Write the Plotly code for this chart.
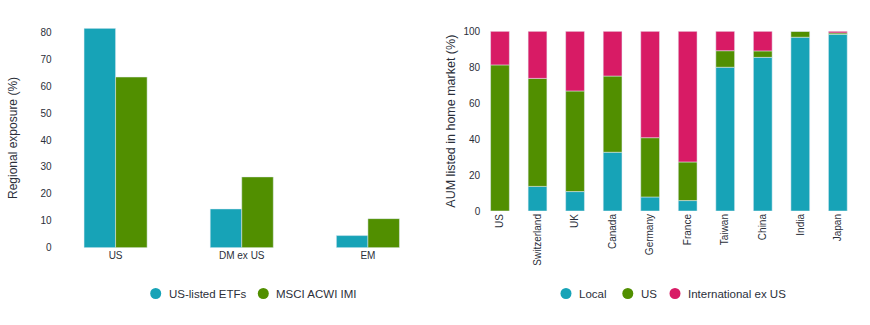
import plotly.graph_objects as go
from plotly.subplots import make_subplots

# Left chart data
regions = ["US", "DM ex US", "EM"]
us_listed_etfs = [81.5, 14.4, 4.5]
msci_acwi_imi = [63.4, 26.3, 10.8]
left_series = ["US-listed ETFs", "MSCI ACWI IMI"]

# Right chart data
countries = ["US", "Switzerland", "UK", "Canada", "Germany", "France", "Taiwan", "China", "India", "Japan"]
local = [0.0, 13.7, 10.8, 32.7, 7.8, 5.8, 80.0, 85.5, 96.7, 98.3]
us = [81.3, 60.1, 56.0, 42.4, 33.0, 21.5, 9.2, 3.6, 3.3, 0.8]
intl_ex_us = [18.7, 26.2, 33.2, 24.9, 59.2, 72.7, 10.8, 10.9, 0.0, 0.9]
right_series = ["Local", "US", "International ex US"]

TEAL = "#17a3b7"
GREEN = "#518f00"
PINK = "#d81b65"
TXT = "#2b2f3a"
FONT = "Liberation Sans"
W, H = 870.0, 325.0

fig = make_subplots(rows=1, cols=2)

fig.add_trace(go.Bar(x=regions, y=us_listed_etfs, name=left_series[0], marker=dict(color=TEAL), showlegend=False), row=1, col=1)
fig.add_trace(go.Bar(x=regions, y=msci_acwi_imi, name=left_series[1], marker=dict(color=GREEN), showlegend=False), row=1, col=1)

right_vals = [local, us, intl_ex_us]
right_cols = [TEAL, GREEN, PINK]
base = [0.0] * len(countries)
for name, vals, col in zip(right_series, right_vals, right_cols):
    fig.add_trace(go.Bar(x=countries, y=vals, base=list(base), name=name, offsetgroup="stack",
                         marker=dict(color=col), showlegend=False), row=1, col=2)
    base = [b + v for b, v in zip(base, vals)]

fig.update_layout(
    width=870, height=325,
    margin=dict(l=0, r=0, t=0, b=0),
    paper_bgcolor="white", plot_bgcolor="white",
    font=dict(family=FONT, color=TXT, size=10),
    barmode="group", bargap=0.5, bargroupgap=0,
    showlegend=False,
)

# Left axes
fig.update_xaxes(domain=[52.5 / W, 431 / W], showgrid=False, showline=False, zeroline=False,
                 ticks="", automargin=False, tickfont=dict(size=10, color=TXT), row=1, col=1)
fig.update_yaxes(domain=[(H - 247.7) / H, (H - 28.3) / H], range=[0, 81.5], dtick=10,
                 showgrid=False, showline=False, zeroline=False, ticks="", automargin=False,
                 tickfont=dict(size=10, color=TXT),
                 title=dict(text="Regional exposure (%)", font=dict(size=12, color=TXT), standoff=20),
                 row=1, col=1)

# Right axes
fig.update_xaxes(domain=[481.2 / W, 856.6 / W], showgrid=False, showline=False, zeroline=False,
                 ticks="", automargin=False, tickangle=-90, tickfont=dict(size=10, color=TXT), row=1, col=2)
fig.update_yaxes(domain=[(H - 211) / H, (H - 31.3) / H], range=[0, 100], dtick=20,
                 showgrid=False, showline=False, zeroline=False, ticks="", automargin=False,
                 tickfont=dict(size=10, color=TXT),
                 title=dict(text="AUM listed in home market (%)", font=dict(size=12.5, color=TXT), standoff=5),
                 row=1, col=2)

# Manual legends (circle + label)
def legend_item(name, color, cx, cy=293.5):
    fig.add_shape(type="circle", xref="paper", yref="paper", xsizemode="pixel", ysizemode="pixel",
                  xanchor=cx / W, yanchor=(H - cy) / H, x0=-5.5, x1=5.5, y0=-5.5, y1=5.5,
                  fillcolor=color, line=dict(width=0))
    fig.add_annotation(text=name, xref="paper", yref="paper", x=(cx + 11) / W, y=(H - cy) / H,
                       xanchor="left", yanchor="middle", showarrow=False,
                       font=dict(size=11.5, color=TXT, family=FONT))

for name, col, cx in zip(left_series, [TEAL, GREEN], [155.7, 263.3]):
    legend_item(name, col, cx)
for name, col, cx in zip(right_series, right_cols, [566, 627.8, 675]):
    legend_item(name, col, cx)

fig.write_html("out.html")
